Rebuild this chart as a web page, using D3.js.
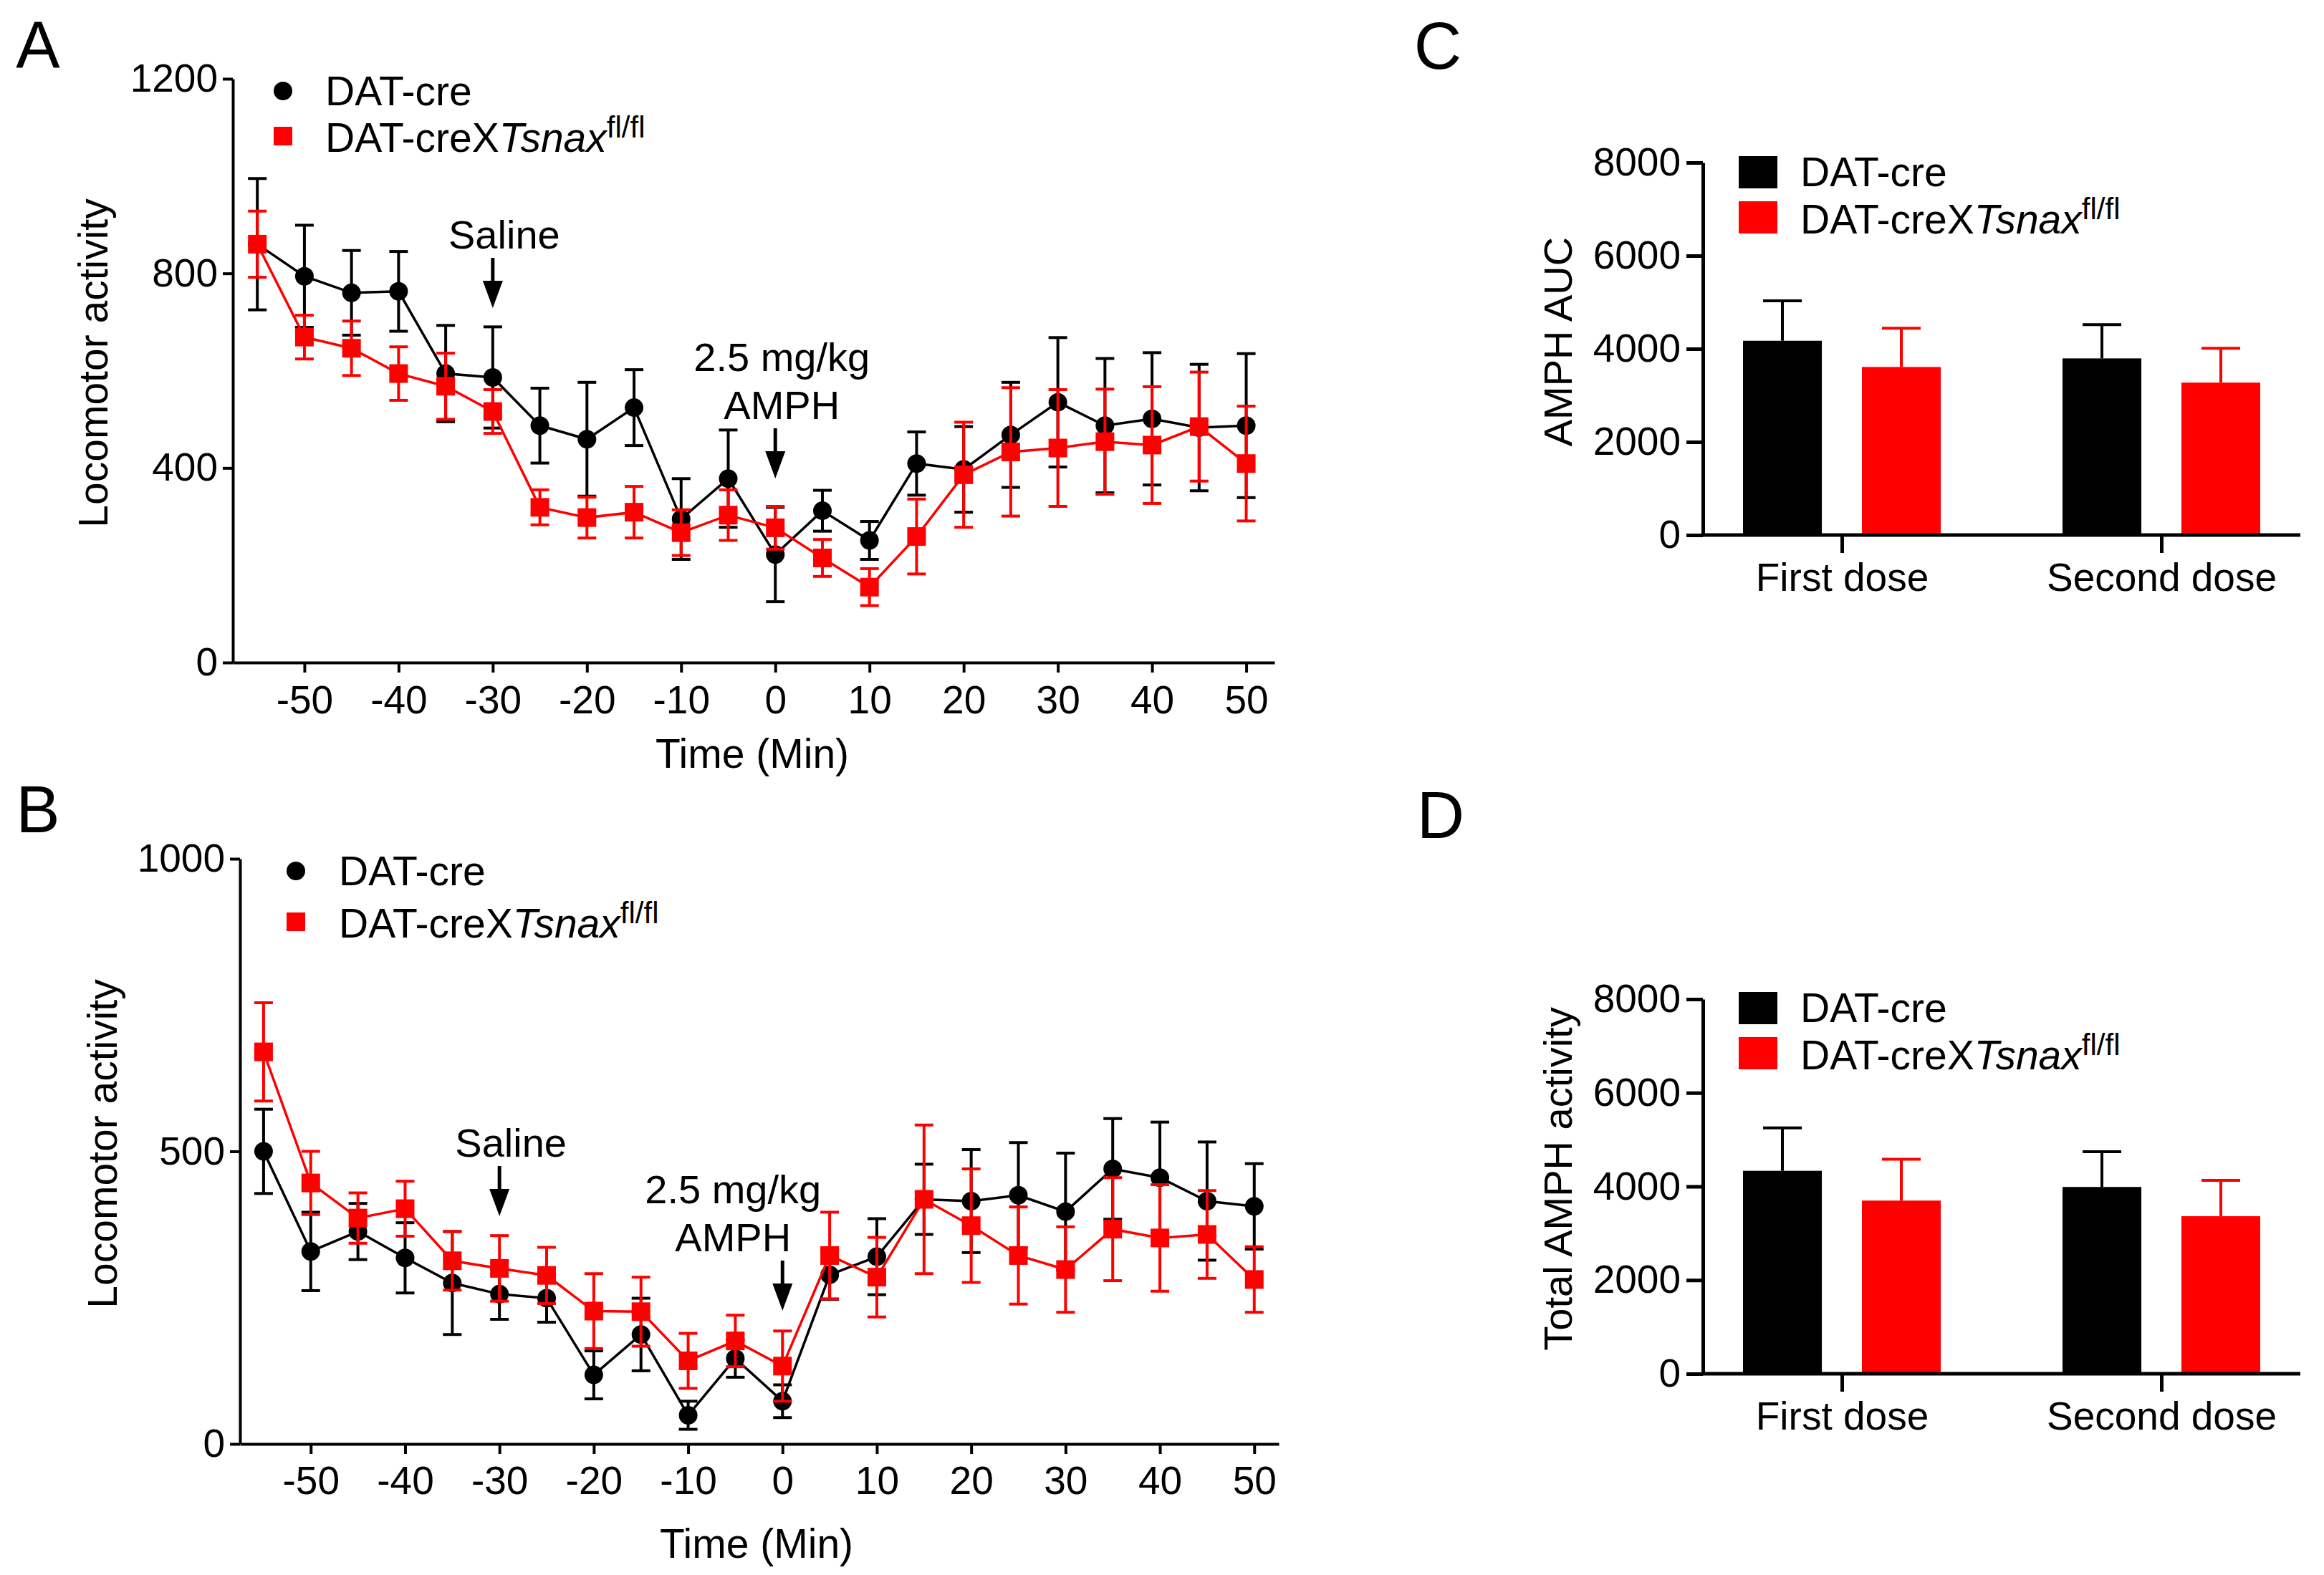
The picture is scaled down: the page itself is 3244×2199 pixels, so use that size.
<!DOCTYPE html>
<html>
<head>
<meta charset="utf-8">
<script src="https://cdn.jsdelivr.net/npm/d3@7"></script>
<style>
  html, body { margin: 0; padding: 0; background: #fff; }
  text { font-family: "Liberation Sans", Arial, sans-serif; fill: #000; }
</style>
</head>
<body>
<script>
// time course (min) shared by A and B
const timePoints = [-55, -50, -45, -40, -35, -30, -25, -20, -15, -10, -5, 0, 5, 10, 15, 20, 25, 30, 35, 40, 45, 50];
const timeTicks = [-50, -40, -30, -20, -10, 0, 10, 20, 30, 40, 50];

// panel A
const aCreMean = [860, 794, 760, 763, 594, 586, 487, 459, 524, 295, 378, 222, 312, 251, 409, 397, 468, 535, 487, 501, 483, 487];
const aCreSem  = [135, 105, 87, 82, 99, 104, 77, 117, 78, 83, 100, 97, 42, 39, 65, 88, 108, 133, 138, 136, 130, 148];
const aKoMean  = [860, 669, 646, 594, 568, 516, 319, 298, 309, 267, 303, 277, 215, 155, 259, 386, 433, 441, 454, 447, 485, 409];
const aKoSem   = [68, 45, 56, 55, 68, 45, 36, 42, 53, 47, 52, 44, 38, 38, 77, 108, 132, 120, 108, 120, 112, 118];
const aYTicks = [0, 400, 800, 1200];

// panel B
const bCreMean = [500, 329, 363, 318, 275, 256, 249, 118, 187, 49, 146, 73, 289, 320, 418, 415, 425, 397, 470, 455, 415, 406];
const bCreSem  = [72, 67, 48, 60, 88, 43, 41, 41, 62, 24, 32, 28, 42, 65, 60, 88, 90, 100, 86, 95, 101, 73];
const bKoMean  = [670, 446, 386, 402, 313, 300, 288, 227, 226, 142, 176, 133, 322, 285, 418, 373, 322, 298, 367, 352, 358, 281];
const bKoSem   = [84, 54, 43, 47, 50, 56, 48, 64, 59, 47, 44, 60, 74, 68, 127, 97, 83, 73, 88, 91, 75, 56];
const bYTicks = [0, 500, 1000];

// panels C and D
const doseLabels = ["First dose", "Second dose"];
const cCreMean = [4173, 3794];
const cCreSem  = [857, 726];
const cKoMean  = [3610, 3274];
const cKoSem   = [834, 737];
const dCreMean = [4334, 3989];
const dCreSem  = [916, 754];
const dKoMean  = [3698, 3364];
const dKoSem   = [884, 765];
const barYTicks = [0, 2000, 4000, 6000, 8000];

const RED = "#ff0000";
const FS = 55;

const svg = d3.select("body").append("svg")
    .attr("width", 3244)
    .attr("height", 2199)
    .attr("viewBox", "0 0 3244 2199");
svg.append("rect").attr("width", 3244).attr("height", 2199).attr("fill", "#fff");

function panelLetter(letter, x, y) {
    svg.append("text")
        .attr("x", x).attr("y", y)
        .attr("text-anchor", "middle")
        .style("font-size", "92px")
        .text(letter);
}

function koLabel(sel) {
    sel.append("tspan").text("DAT-creX");
    sel.append("tspan").style("font-style", "italic").text("Tsnax");
    sel.append("tspan").attr("dy", -20).style("font-size", "42px").text("fl/fl");
}

function styleAxis(g, width) {
    g.select(".domain").attr("stroke", "#000").attr("stroke-width", width);
    g.selectAll(".tick line").attr("stroke", "#000").attr("stroke-width", width);
    g.selectAll(".tick text").style("font-size", FS + "px").attr("fill", "#000");
}

function arrow(g, x, y1, y2) {
    g.append("line")
        .attr("x1", x).attr("x2", x)
        .attr("y1", y1).attr("y2", y2 - 30)
        .attr("stroke", "#000").attr("stroke-width", 5);
    g.append("path")
        .attr("d", `M${x - 14},${y2 - 38} L${x + 14},${y2 - 38} L${x},${y2} Z`)
        .attr("fill", "#000");
}

function drawTimePanel(p) {
    const g = svg.append("g");
    const x = d3.scaleLinear().domain(p.xDomain).range([p.left, p.right]);
    const y = d3.scaleLinear().domain([0, p.yMax]).range([p.bottom, p.top]);

    const series = [
        {mean: p.creMean, sem: p.creSem, color: "#000", shape: "circle"},
        {mean: p.koMean, sem: p.koSem, color: RED, shape: "square"}
    ];

    series.forEach(s => {
        const pts = timePoints.map((t, i) => ({t: t, m: s.mean[i], e: s.sem[i]}));
        const sg = g.append("g");
        // error bars
        const eb = sg.selectAll(".eb").data(pts).enter().append("g");
        eb.append("line")
            .attr("x1", d => x(d.t)).attr("x2", d => x(d.t))
            .attr("y1", d => y(d.m - d.e)).attr("y2", d => y(d.m + d.e))
            .attr("stroke", s.color).attr("stroke-width", 4);
        [-1, 1].forEach(sign => {
            eb.append("line")
                .attr("x1", d => x(d.t) - 13).attr("x2", d => x(d.t) + 13)
                .attr("y1", d => y(d.m + sign * d.e)).attr("y2", d => y(d.m + sign * d.e))
                .attr("stroke", s.color).attr("stroke-width", 4);
        });
        // connecting line
        sg.append("path")
            .datum(pts)
            .attr("d", d3.line().x(d => x(d.t)).y(d => y(d.m)))
            .attr("fill", "none")
            .attr("stroke", s.color)
            .attr("stroke-width", 3.5);
        // markers
        if (s.shape === "circle") {
            sg.selectAll(".mk").data(pts).enter().append("circle")
                .attr("cx", d => x(d.t)).attr("cy", d => y(d.m))
                .attr("r", 13).attr("fill", s.color);
        } else {
            sg.selectAll(".mk").data(pts).enter().append("rect")
                .attr("x", d => x(d.t) - 13).attr("y", d => y(d.m) - 13)
                .attr("width", 26).attr("height", 26).attr("fill", s.color);
        }
    });

    // axes
    const yAxis = g.append("g")
        .attr("transform", `translate(${p.left},0)`)
        .call(d3.axisLeft(y).tickValues(p.yTicks).tickSize(14).tickSizeOuter(0).tickPadding(7).tickFormat(d3.format("d")));
    styleAxis(yAxis, 4);
    const xAxis = g.append("g")
        .attr("transform", `translate(0,${p.bottom})`)
        .call(d3.axisBottom(x).tickValues(timeTicks).tickSize(14).tickSizeOuter(0).tickPadding(p.xPad).tickFormat(d3.format("d")));
    styleAxis(xAxis, 4);
    xAxis.selectAll(".tick text").text(d => d < 0 ? "-" + Math.abs(d) : d);

    // axis titles
    g.append("text")
        .attr("transform", `translate(${p.yTitleX},${p.yTitleY}) rotate(-90)`)
        .attr("text-anchor", "middle")
        .style("font-size", "57px")
        .text("Locomotor activity");
    g.append("text")
        .attr("x", p.xTitleX).attr("y", p.xTitleY)
        .attr("text-anchor", "middle")
        .style("font-size", "57px")
        .text("Time (Min)");

    // legend
    const lg = g.append("g");
    lg.append("circle").attr("cx", p.legX).attr("cy", p.legY1).attr("r", 13).attr("fill", "#000");
    lg.append("rect").attr("x", p.legX - 13).attr("y", p.legY2 - 13).attr("width", 26).attr("height", 26).attr("fill", RED);
    lg.append("text").attr("x", p.legTextX).attr("y", p.legY1 + 20).style("font-size", "57px").text("DAT-cre");
    lg.append("text").attr("x", p.legTextX).attr("y", p.legY2 + 22).style("font-size", "57px").call(koLabel);

    // annotations
    g.append("text").attr("x", x(-30) + 16).attr("y", p.salineY)
        .attr("text-anchor", "middle").style("font-size", "56px").text("Saline");
    arrow(g, x(-30), p.salineY + 13, p.salineY + 83);
    g.append("text").attr("x", x(0) + p.amphDx).attr("y", p.amphY)
        .attr("text-anchor", "middle").style("font-size", "56px").text("2.5 mg/kg");
    g.append("text").attr("x", x(0) + p.amphDx).attr("y", p.amphY + 67)
        .attr("text-anchor", "middle").style("font-size", "56px").text("AMPH");
    arrow(g, x(0), p.amphY + 80, p.amphY + 150);
}

function drawBarPanel(p) {
    const g = svg.append("g");
    const x0 = d3.scalePoint().domain(doseLabels).range([p.left, p.right]).padding(0.435);
    const x1 = d3.scaleBand().domain(["cre", "ko"]).range([-138, 138]).paddingInner(0.337);
    const y = d3.scaleLinear().domain([0, 8000]).range([p.bottom, p.top]);

    const rows = [];
    doseLabels.forEach((dose, i) => {
        rows.push({dose: dose, grp: "cre", m: p.creMean[i], e: p.creSem[i], color: "#000"});
        rows.push({dose: dose, grp: "ko", m: p.koMean[i], e: p.koSem[i], color: RED});
    });

    const bx = d => x0(d.dose) + x1(d.grp);
    g.selectAll(".err").data(rows).enter().append("line")
        .attr("x1", d => bx(d) + x1.bandwidth() / 2).attr("x2", d => bx(d) + x1.bandwidth() / 2)
        .attr("y1", d => y(d.m)).attr("y2", d => y(d.m + d.e))
        .attr("stroke", d => d.color).attr("stroke-width", 4);
    g.selectAll(".cap").data(rows).enter().append("line")
        .attr("x1", d => bx(d) + x1.bandwidth() / 2 - 27).attr("x2", d => bx(d) + x1.bandwidth() / 2 + 27)
        .attr("y1", d => y(d.m + d.e)).attr("y2", d => y(d.m + d.e))
        .attr("stroke", d => d.color).attr("stroke-width", 4);
    g.selectAll(".bar").data(rows).enter().append("rect")
        .attr("x", d => bx(d)).attr("width", x1.bandwidth())
        .attr("y", d => y(d.m)).attr("height", d => y(0) - y(d.m))
        .attr("fill", d => d.color);

    const yAxis = g.append("g")
        .attr("transform", `translate(${p.left},0)`)
        .call(d3.axisLeft(y).tickValues(barYTicks).tickSize(23).tickSizeOuter(0).tickPadding(8).tickFormat(d3.format("d")));
    styleAxis(yAxis, 5);
    const xAxis = g.append("g")
        .attr("transform", `translate(0,${p.bottom})`)
        .call(d3.axisBottom(x0).tickSize(25).tickSizeOuter(0).tickPadding(14));
    styleAxis(xAxis, 5);
    xAxis.select(".domain").attr("d", `M${p.left},0H${p.right}`);

    g.append("text")
        .attr("transform", `translate(${p.yTitleX},${p.yTitleY}) rotate(-90)`)
        .attr("text-anchor", "middle")
        .style("font-size", "56px")
        .text(p.yTitle);

    // legend
    const lg = g.append("g");
    lg.append("rect").attr("x", 2427).attr("y", p.legY1 - 22).attr("width", 54).attr("height", 45).attr("fill", "#000");
    lg.append("rect").attr("x", 2427).attr("y", p.legY2 - 22).attr("width", 54).attr("height", 45).attr("fill", RED);
    lg.append("text").attr("x", 2513).attr("y", p.legY1 + 20).style("font-size", "57px").text("DAT-cre");
    lg.append("text").attr("x", 2513).attr("y", p.legY2 + 23).style("font-size", "57px").call(koLabel);
}

panelLetter("A", 53, 95);
panelLetter("B", 53, 1162);
panelLetter("C", 2007, 96);
panelLetter("D", 2011, 1170);

drawTimePanel({
    creMean: aCreMean, creSem: aCreSem, koMean: aKoMean, koSem: aKoSem,
    yMax: 1200, yTicks: aYTicks,
    xDomain: [-57.6, 53.0], left: 325, right: 1779, top: 110, bottom: 925, xPad: 18,
    yTitleX: 150, yTitleY: 507, xTitleX: 1050, xTitleY: 1072,
    legX: 395, legY1: 127, legY2: 190, legTextX: 454,
    salineY: 347, amphY: 518, amphDx: 9
});

drawTimePanel({
    creMean: bCreMean, creSem: bCreSem, koMean: bKoMean, koSem: bKoSem,
    yMax: 1000, yTicks: bYTicks,
    xDomain: [-57.5, 52.6], left: 335, right: 1785, top: 1199, bottom: 2016, xPad: 17,
    yTitleX: 163, yTitleY: 1597, xTitleX: 1056, xTitleY: 2175,
    legX: 413, legY1: 1216, legY2: 1287, legTextX: 473,
    salineY: 1615, amphY: 1680, amphDx: -69
});

drawBarPanel({
    creMean: cCreMean, creSem: cCreSem, koMean: cKoMean, koSem: cKoSem,
    left: 2377, right: 3211, top: 227, bottom: 747,
    yTitle: "AMPH AUC", yTitleX: 2194, yTitleY: 477,
    legY1: 240, legY2: 303
});

drawBarPanel({
    creMean: dCreMean, creSem: dCreSem, koMean: dKoMean, koSem: dKoSem,
    left: 2377, right: 3211, top: 1395, bottom: 1918,
    yTitle: "Total AMPH activity", yTitleX: 2194, yTitleY: 1646,
    legY1: 1407, legY2: 1470
});
</script>
</body>
</html>
